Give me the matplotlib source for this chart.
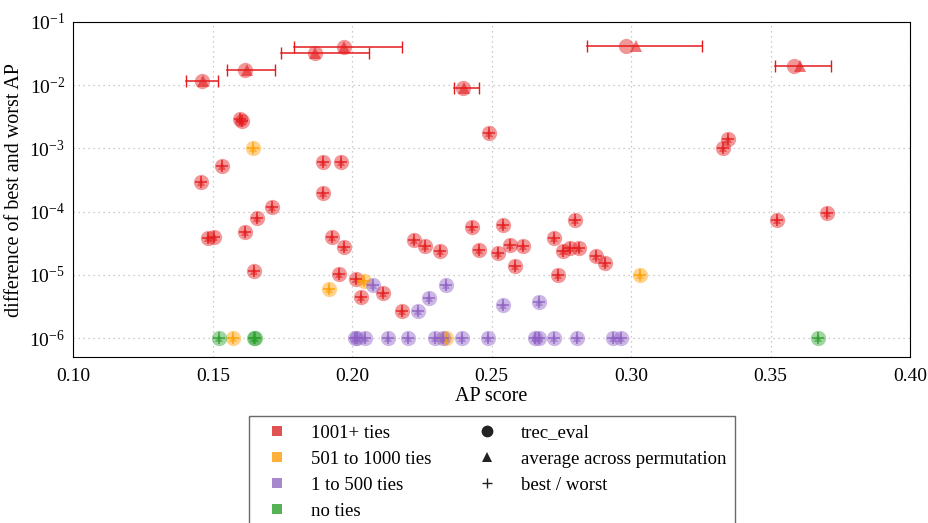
import matplotlib
matplotlib.use("Agg")
import matplotlib.pyplot as plt
from matplotlib.lines import Line2D
from matplotlib.ticker import LogLocator, LogFormatterSciNotation

plt.rcParams['font.family'] = ['Liberation Serif', 'DejaVu Serif']
plt.rcParams['mathtext.fontset'] = 'custom'
plt.rcParams['mathtext.rm'] = 'Liberation Serif'
plt.rcParams['mathtext.it'] = 'Liberation Serif:italic'

# runs with large spread: trec_eval AP, average over permutations, worst, best, difference
big_ap = [0.1460, 0.1617, 0.1865, 0.1969, 0.2398, 0.2982, 0.3585]
big_avg = [0.1464, 0.1621, 0.1868, 0.1972, 0.2400, 0.3016, 0.3607]
big_worst = [0.1403, 0.1552, 0.1744, 0.1791, 0.2365, 0.2843, 0.3515]
big_best = [0.1520, 0.1722, 0.2061, 0.2179, 0.2455, 0.3256, 0.3717]
big_diff = [0.0117, 0.0171, 0.0323, 0.0398, 0.00896, 0.0419, 0.0201]

# 1001+ ties (remaining runs)
red_ap = [0.1597, 0.1603, 0.2490, 0.3349, 0.3329, 0.1533, 0.1895, 0.1961, 0.1456,
          0.1895, 0.1712, 0.1659, 0.1617, 0.1483, 0.1505, 0.1929, 0.1970, 0.1647,
          0.1952, 0.2015, 0.2030, 0.2110, 0.2179, 0.2221, 0.2262, 0.2313, 0.2429,
          0.2454, 0.2540, 0.2522, 0.2564, 0.2611, 0.2582, 0.2722, 0.2798, 0.2737,
          0.2755, 0.2782, 0.2814, 0.2874, 0.2905, 0.3525, 0.3702]
red_diff = [2.9e-3, 2.7e-3, 1.75e-3, 1.43e-3, 1.03e-3, 5.2e-4, 6.1e-4, 6.1e-4, 2.9e-4,
            2.0e-4, 1.2e-4, 7.9e-5, 4.8e-5, 3.85e-5, 4.05e-5, 4.0e-5, 2.8e-5, 1.16e-5,
            1.04e-5, 8.5e-6, 4.5e-6, 5.1e-6, 2.7e-6, 3.6e-5, 2.9e-5, 2.4e-5, 5.8e-5,
            2.5e-5, 6.1e-5, 2.2e-5, 3.0e-5, 2.9e-5, 1.38e-5, 3.8e-5, 7.5e-5, 1.01e-5,
            2.4e-5, 2.7e-5, 2.7e-5, 1.96e-5, 1.56e-5, 7.4e-5, 9.6e-5]

# 501 to 1000 ties
orange_ap = [0.1644, 0.1917, 0.2042, 0.3033, 0.1573, 0.2337]
orange_diff = [1.0e-3, 5.9e-6, 7.9e-6, 1.0e-5, 1e-6, 1e-6]

# 1 to 500 ties
purple_ap = [0.2074, 0.2235, 0.2277, 0.2335, 0.2542, 0.2671,
             0.2017, 0.2009, 0.2044, 0.2128, 0.2200, 0.2295, 0.2325, 0.2394,
             0.2487, 0.2657, 0.2669, 0.2722, 0.2806, 0.2936, 0.2964]
purple_diff = [7.0e-6, 2.7e-6, 4.4e-6, 6.9e-6, 3.3e-6, 3.8e-6,
               1e-6, 1e-6, 1e-6, 1e-6, 1e-6, 1e-6, 1e-6, 1e-6,
               1e-6, 1e-6, 1e-6, 1e-6, 1e-6, 1e-6, 1e-6]

# no ties
green_ap = [0.1523, 0.1648, 0.1650, 0.3672]
green_diff = [1e-6, 1e-6, 1e-6, 1e-6]

groups = [("1001+ ties", "#e41a1c", "#e05252", red_ap, red_diff),
          ("501 to 1000 ties", "#ff9f00", "#ffb03a", orange_ap, orange_diff),
          ("1 to 500 ties", "#8d5fc4", "#a888cc", purple_ap, purple_diff),
          ("no ties", "#2ca02c", "#55b355", green_ap, green_diff)]


def main():
    fig = plt.figure(figsize=(9.29, 5.23), dpi=100)
    ax = fig.add_axes([0.079, 0.317, 0.9005, 0.641])

    # runs with a visible best/worst range
    for i in range(len(big_ap)):
        ax.plot([big_worst[i], big_best[i]], [big_diff[i], big_diff[i]], color="#e41a1c",
                lw=1.1, marker="|", markersize=8, mew=1.0, zorder=3)
        ax.plot(big_ap[i], big_diff[i], "o", color="#e41a1c", alpha=0.45, markersize=11,
                mew=0, zorder=2)
        ax.plot(big_avg[i], big_diff[i], "^", color="#e41a1c", alpha=0.6, markersize=8,
                mew=0, zorder=2)

    for name, col, lcol, ap, diff in groups:
        ax.plot(ap, diff, "o", color=col, alpha=0.45, markersize=11, mew=0, ls="none", zorder=2)
        ax.plot(ap, diff, "^", color=col, alpha=0.5, markersize=6, mew=0, ls="none", zorder=2)
        ax.plot(ap, diff, "+", color=col, alpha=0.9, markersize=9, mew=1.1, ls="none", zorder=3)

    ax.set_yscale("log")
    ax.set_xlim(0.10, 0.40)
    ax.set_ylim(10 ** -6.3, 1e-1)
    ax.set_xticks([0.10, 0.15, 0.20, 0.25, 0.30, 0.35, 0.40])
    ax.set_xticklabels(["0.10", "0.15", "0.20", "0.25", "0.30", "0.35", "0.40"])
    ax.yaxis.set_major_locator(LogLocator(base=10, numticks=10))
    ax.yaxis.set_major_formatter(LogFormatterSciNotation())
    ax.yaxis.set_minor_locator(plt.NullLocator())
    ax.tick_params(axis="x", length=0, labelsize=14, pad=8)
    ax.tick_params(axis="y", length=0, labelsize=14, pad=6)
    ax.grid(True, color="#bbbbbb", linestyle=(0, (1, 3)), linewidth=0.9)
    ax.set_xlabel("AP score", fontsize=14.5, labelpad=1)
    ax.set_ylabel("difference of best and worst AP", fontsize=14.5, labelpad=4)

    handles = []
    labels = []
    for name, col, lcol, ap, diff in groups:
        handles.append(Line2D([], [], ls="none", marker="s", color=lcol, markersize=7.5, mew=0))
        labels.append(name)
    handles.append(Line2D([], [], ls="none", marker="o", color="#222222", markersize=8.5, mew=0))
    labels.append("trec_eval")
    handles.append(Line2D([], [], ls="none", marker="^", color="#222222", markersize=7, mew=0))
    labels.append("average across permutation")
    handles.append(Line2D([], [], ls="none", marker="+", color="#222222", markersize=7, mew=1))
    labels.append("best / worst")
    handles.append(Line2D([], [], ls="none"))
    labels.append("")
    fig.legend(handles, labels, ncol=2, loc="upper center", bbox_to_anchor=(0.5296, 0.2046),
               frameon=True, fancybox=False, edgecolor="#444444", fontsize=13.5,
               handlelength=2.08, handletextpad=0.77, columnspacing=1.95, labelspacing=0.48,
               borderpad=0.45, borderaxespad=0)

    fig.savefig("out.png", dpi=100)


if __name__ == "__main__":
    main()
